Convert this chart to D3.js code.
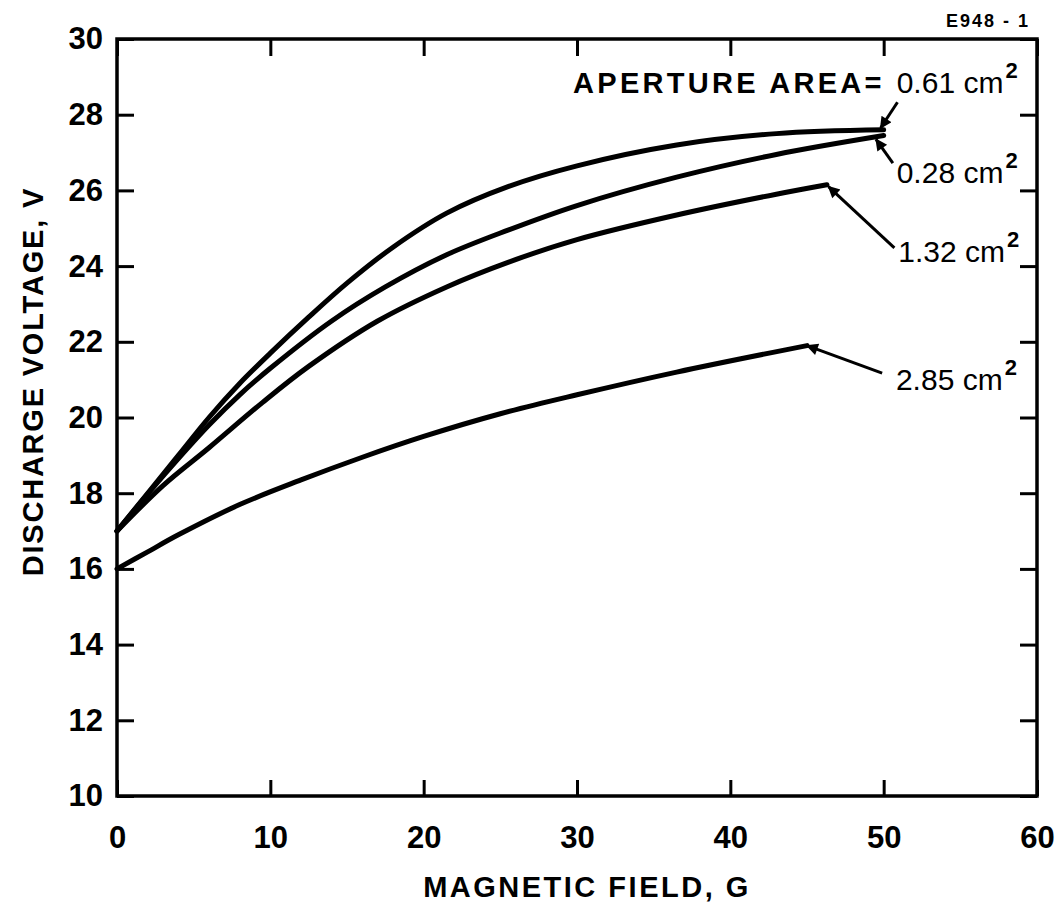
<!DOCTYPE html>
<html>
<head>
<meta charset="utf-8">
<script src="https://cdn.jsdelivr.net/npm/d3@7"></script>
<style>
  html, body { margin: 0; padding: 0; background: #fff; }
  svg { display: block; }
  text { font-family: "Liberation Sans", Arial, sans-serif; fill: #000; }
</style>
</head>
<body>
<svg id="chart" width="1060" height="906"></svg>
<script>
// ---- data ----
const xTicks = [0, 10, 20, 30, 40, 50, 60];
const yTicks = [10, 12, 14, 16, 18, 20, 22, 24, 26, 28, 30];
const xTitle = "MAGNETIC FIELD, G";
const yTitle = "DISCHARGE VOLTAGE, V";
const figureId = "E948-1";

const areas = ["0.61", "0.28", "1.32", "2.85"];
const field061 = [0, 4, 6, 8, 10, 12.5, 15, 18, 21.5, 25.5, 30, 36.5, 43, 50];
const volt061  = [17.0, 19.0, 20.0, 20.9, 21.7, 22.65, 23.55, 24.5, 25.4, 26.1, 26.65, 27.2, 27.5, 27.6];
const field028 = [0, 3, 6, 8, 10, 14, 17.5, 21.5, 25.5, 30, 36.5, 43, 50];
const volt028  = [17.0, 18.45, 19.8, 20.6, 21.3, 22.55, 23.45, 24.3, 24.95, 25.6, 26.35, 26.95, 27.45];
const field132 = [0, 3, 6, 9.5, 12.5, 17, 21.5, 25.5, 30, 36.5, 43, 46.3];
const volt132  = [17.0, 18.2, 19.2, 20.4, 21.35, 22.55, 23.45, 24.1, 24.7, 25.35, 25.9, 26.15];
const field285 = [0, 2, 4, 8, 12, 16, 20, 25, 30, 36.5, 45];
const volt285  = [16.0, 16.45, 16.9, 17.7, 18.35, 18.95, 19.5, 20.1, 20.6, 21.2, 21.9];

const seriesFields = [field061, field028, field132, field285];
const seriesVolts  = [volt061, volt028, volt132, volt285];

// ---- layout ----
const svg = d3.select("#chart");
const L = 117, R = 1037, T = 39, B = 796;
const x = d3.scaleLinear().domain([0, 60]).range([L, R]);
const y = d3.scaleLinear().domain([10, 30]).range([B, T]);

// axes with inward ticks
const tickFont = "bold 31px 'Liberation Sans', Arial, sans-serif";
const gB = svg.append("g").attr("transform", `translate(0,${B})`)
  .call(d3.axisBottom(x).tickValues(xTicks).tickFormat(d3.format("d")).tickSize(-16).tickPadding(30));
const gT = svg.append("g").attr("transform", `translate(0,${T})`)
  .call(d3.axisTop(x).tickValues(xTicks).tickSize(-17).tickFormat(""));
const gL = svg.append("g").attr("transform", `translate(${L},0)`)
  .call(d3.axisLeft(y).tickValues(yTicks).tickFormat(d3.format("d")).tickSize(-17).tickPadding(14));
const gR = svg.append("g").attr("transform", `translate(${R},0)`)
  .call(d3.axisRight(y).tickValues(yTicks).tickSize(-17).tickFormat(""));
[gB, gT, gL, gR].forEach(g => {
  g.select(".domain").remove();
  g.selectAll(".tick line").attr("stroke", "#000").attr("stroke-width", 3);
  g.selectAll(".tick text").style("font", tickFont).attr("fill", "#000");
});

// frame
svg.append("rect").attr("x", x(0)).attr("y", y(30))
  .attr("width", x(60) - x(0)).attr("height", y(10) - y(30))
  .attr("fill", "none").attr("stroke", "#000").attr("stroke-width", 3.5);

// axis titles
svg.append("text").attr("x", (x(0) + x(60)) / 2 + 10).attr("y", 897)
  .attr("text-anchor", "middle")
  .style("font", "bold 29px 'Liberation Sans', Arial, sans-serif")
  .style("letter-spacing", "2.5px")
  .text(xTitle);
svg.append("text")
  .attr("transform", `translate(43,${(y(26) + y(16)) / 2 + 2}) rotate(-90)`)
  .attr("text-anchor", "middle")
  .style("font", "bold 29px 'Liberation Sans', Arial, sans-serif")
  .style("letter-spacing", "1.8px")
  .text(yTitle);

svg.append("text").attr("x", 1030).attr("y", 27).attr("text-anchor", "end")
  .style("font", "bold 18px 'Liberation Sans', Arial, sans-serif")
  .style("letter-spacing", "2px")
  .text(figureId.replace("-", " - "));

// curves
const line = d3.line().x(d => x(d[0])).y(d => y(d[1])).curve(d3.curveCatmullRom.alpha(0.5));
seriesFields.forEach((fx, i) => {
  const pts = fx.map((v, j) => [v, seriesVolts[i][j]]);
  svg.append("path").datum(pts).attr("d", line)
    .attr("fill", "none").attr("stroke", "#000").attr("stroke-width", 5)
    .attr("stroke-linejoin", "round").attr("stroke-linecap", "round");
});

// arrow marker
svg.append("defs").append("marker")
  .attr("id", "ah").attr("viewBox", "0 0 10 10").attr("refX", 9).attr("refY", 5)
  .attr("markerWidth", 5).attr("markerHeight", 4).attr("markerUnits", "strokeWidth")
  .attr("orient", "auto")
  .append("path").attr("d", "M0,0 L10,5 L0,10 z").attr("fill", "#000");

// annotations: label anchor (data units) and arrow tail (data units); arrow tip at series end
const labelX   = [50.85, 50.85, 50.95, 50.8];
const labelY   = [28.57, 26.2, 24.1, 20.73];
const tailX    = [50.9, 50.6, 50.7, 49.9];
const tailY    = [28.33, 26.72, 24.48, 21.17];
const tipShiftX = [-0.2, -0.5, 0.1, 0];
const tipShiftY = [0.05, -0.1, -0.05, 0];

svg.append("text").attr("x", x(29.74)).attr("y", y(28.57))
  .style("font", "bold 29px 'Liberation Sans', Arial, sans-serif")
  .style("letter-spacing", "3.3px")
  .text("APERTURE  AREA=");

areas.forEach((a, i) => {
  const n = seriesFields[i].length - 1;
  const ex = seriesFields[i][n] + tipShiftX[i], ey = seriesVolts[i][n] + tipShiftY[i];
  svg.append("line")
    .attr("x1", x(tailX[i])).attr("y1", y(tailY[i]))
    .attr("x2", x(ex)).attr("y2", y(ey))
    .attr("stroke", "#000").attr("stroke-width", 3)
    .attr("marker-end", "url(#ah)");
  const t = svg.append("text").attr("x", x(labelX[i])).attr("y", y(labelY[i]))
    .style("font", "30px 'Liberation Sans', Arial, sans-serif");
  t.append("tspan").text(a + " ");
  t.append("tspan").text("cm");
  t.append("tspan").attr("dy", -15).attr("dx", 2)
    .style("font", "bold 22px 'Liberation Sans', Arial, sans-serif").text("2");
});
</script>
</body>
</html>
